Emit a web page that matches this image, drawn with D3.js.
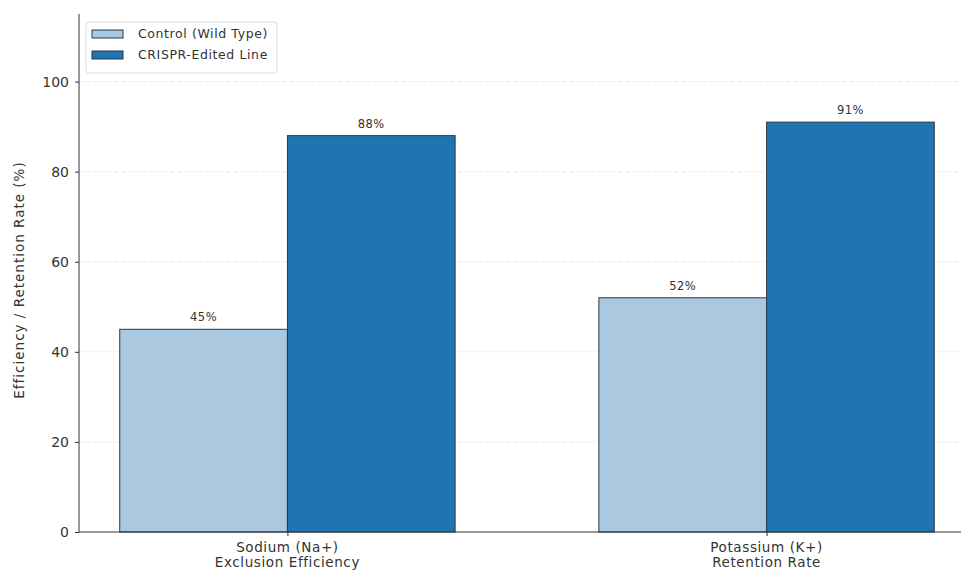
<!DOCTYPE html>
<html>
<head>
<meta charset="utf-8">
<script src="https://cdn.jsdelivr.net/npm/d3@7"></script>
<style>
  body { margin: 0; background: #fff; }
  text { font-family: "DejaVu Sans", sans-serif; }
</style>
</head>
<body>
<div id="chart"></div>
<script>
// Chart data
const categories = [["Sodium (Na+)", "Exclusion Efficiency"], ["Potassium (K+)", "Retention Rate"]];
const seriesNames = ["Control (Wild Type)", "CRISPR-Edited Line"];
const controlValues = [45, 52];
const crisprValues = [88, 91];
const yTicks = [0, 20, 40, 60, 80, 100];

const width = 961, height = 575;
const barW = 0.35;

let colorScale = d3.scaleOrdinal().domain(seriesNames).range(["#aac8e0", "#1f74b2"]);

let svg = d3.select("#chart")
    .append("svg")
    .attr("width", width)
    .attr("height", height);

let x = d3.scaleLinear().domain([-0.435, 1.435]).range([79, 975]);
let y = d3.scaleLinear().domain([0, 115]).range([532, 14]);

// grid
svg.append("g")
    .selectAll("line")
    .data(yTicks.filter(d => d > 0))
    .join("line")
    .attr("x1", 79).attr("x2", width)
    .attr("y1", d => y(d)).attr("y2", d => y(d))
    .attr("stroke", "#ececec")
    .attr("stroke-dasharray", "5,2")
    .attr("stroke-width", 1);

// bars
const series = [controlValues, crisprValues];
series.forEach((vals, s) => {
    svg.append("g")
        .selectAll("rect")
        .data(vals)
        .join("rect")
        .attr("x", (d, i) => x(i - barW + s * barW))
        .attr("width", x(barW) - x(0))
        .attr("y", d => y(d))
        .attr("height", d => y(0) - y(d))
        .attr("fill", colorScale(seriesNames[s]))
        .attr("stroke", "#2b3a48")
        .attr("stroke-width", 1);

    svg.append("g")
        .selectAll("text")
        .data(vals)
        .join("text")
        .attr("x", (d, i) => x(i - barW / 2 + s * barW))
        .attr("y", d => y(d) - 8)
        .attr("text-anchor", "middle")
        .attr("font-size", 11.5)
        .attr("letter-spacing", 0.5)
        .attr("fill", "#333")
        .text(d => d + "%");
});

// y axis
let yAxis = svg.append("g")
    .attr("transform", "translate(79,0)")
    .call(d3.axisLeft(y).tickValues(yTicks).tickSize(4).tickPadding(6));
yAxis.select(".domain").attr("d", `M0,${y(0)}V14`).attr("stroke", "#333");
yAxis.selectAll(".tick line").attr("stroke", "#333");
yAxis.selectAll("text").attr("font-size", 14).attr("fill", "#333")
    .style("font-family", "'DejaVu Sans', sans-serif");

// x axis
let xAxis = svg.append("g")
    .attr("transform", `translate(0,${y(0)})`)
    .call(d3.axisBottom(x).tickValues([0, 1]).tickSize(4).tickFormat(""));
xAxis.select(".domain").attr("d", `M79,0H${width}`).attr("stroke", "#333");
xAxis.selectAll(".tick line").attr("stroke", "#333");

categories.forEach((lines, i) => {
    let t = svg.append("text")
        .attr("x", x(i))
        .attr("y", 552)
        .attr("text-anchor", "middle")
        .attr("font-size", 13.5)
        .attr("letter-spacing", 0.6)
        .attr("fill", "#333");
    lines.forEach((l, k) => {
        t.append("tspan").attr("x", x(i)).attr("dy", k === 0 ? 0 : 15).text(l);
    });
});

// y label
svg.append("text")
    .attr("transform", "translate(24,280) rotate(-90)")
    .attr("text-anchor", "middle")
    .attr("font-size", 13.5)
    .attr("letter-spacing", 1)
    .attr("fill", "#333")
    .text("Efficiency / Retention Rate (%)");

// legend
let legend = svg.append("g").attr("transform", "translate(86,22)");
legend.append("rect")
    .attr("width", 191).attr("height", 51).attr("rx", 3)
    .attr("fill", "#fff").attr("stroke", "#dcdcdc");
seriesNames.forEach((name, i) => {
    legend.append("rect")
        .attr("x", 6).attr("y", 8 + i * 21)
        .attr("width", 31).attr("height", 8)
        .attr("fill", colorScale(name))
        .attr("stroke", "#2b3a48");
    legend.append("text")
        .attr("x", 52).attr("y", 16 + i * 21)
        .attr("font-size", 12.5)
        .attr("letter-spacing", 0.6)
        .attr("fill", "#333")
        .text(name);
});
</script>
</body>
</html>
